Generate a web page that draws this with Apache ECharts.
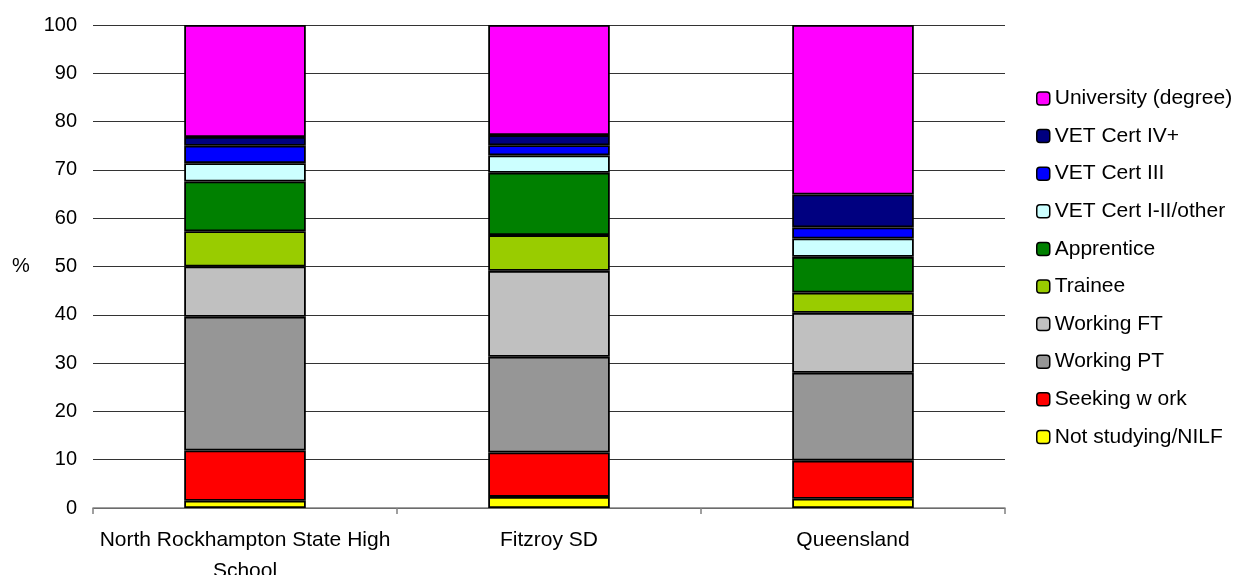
<!DOCTYPE html>
<html>
<head>
<meta charset="utf-8">
<script src="https://cdn.jsdelivr.net/npm/echarts@6/dist/echarts.min.js"></script>
<style>html,body{margin:0;padding:0;background:#fff}#c{width:1240px;height:575px}</style>
</head>
<body>
<div id="c"></div>
<script>
const categories = ['North Rockhampton State High\nSchool', 'Fitzroy SD', 'Queensland'];
const seriesNames = ['Not studying/NILF', 'Seeking w ork', 'Working PT', 'Working FT', 'Trainee', 'Apprentice', 'VET Cert I-II/other', 'VET Cert III', 'VET Cert IV+', 'University (degree)'];
const notStudying = [1.5, 2.3, 1.9];
const seekingWork = [10.4, 9.2, 7.9];
const workingPT = [27.7, 19.8, 18.2];
const workingFT = [10.4, 17.8, 12.4];
const trainee = [7.3, 7.4, 4.2];
const apprentice = [10.3, 12.9, 7.4];
const vetCertI_II = [3.8, 3.6, 3.8];
const vetCertIII = [3.6, 2.1, 2.3];
const vetCertIV = [1.8, 2.1, 6.8];
const university = [23.2, 22.8, 35.1];
const yTicks = [0, 10, 20, 30, 40, 50, 60, 70, 80, 90, 100];

const values = [notStudying, seekingWork, workingPT, workingFT, trainee, apprentice, vetCertI_II, vetCertIII, vetCertIV, university];
const colors = ['#FFFF00', '#FF0000', '#969696', '#C0C0C0', '#99CC00', '#008000', '#CCFFFF', '#0000FF', '#000080', '#FF00FF'];
const font = 'Liberation Sans, Arial, sans-serif';

const chart = echarts.init(document.getElementById('c'), null, {renderer: 'canvas'});
chart.setOption({
  animation: false,
  backgroundColor: '#fff',
  grid: {left: 93, right: 235, top: 25, bottom: 67, containLabel: false, outerBoundsMode: 'none'},
  legend: {
    orient: 'vertical',
    left: 1031,
    top: 83,
    itemWidth: 13,
    itemHeight: 13,
    itemGap: 16.6,
    data: seriesNames.slice().reverse(),
    textStyle: {fontFamily: font, fontSize: 21, color: '#000', lineHeight: 21},
    itemStyle: {borderColor: '#000', borderWidth: 1.5}
  },
  xAxis: {
    type: 'category',
    data: categories,
    axisLine: {lineStyle: {color: '#808080', width: 1.5}},
    axisTick: {show: true, length: 6, alignWithLabel: false, lineStyle: {color: '#808080', width: 1.5}},
    axisLabel: {fontFamily: font, fontSize: 21, color: '#000', margin: 17, lineHeight: 31, interval: 0}
  },
  yAxis: {
    type: 'value',
    min: 0,
    max: 100,
    interval: 10,
    name: '%',
    nameLocation: 'middle',
    nameRotate: 0,
    nameGap: 72,
    nameTextStyle: {fontFamily: font, fontSize: 20, color: '#000', align: 'center', verticalAlign: 'middle'},
    axisLine: {show: false},
    axisTick: {show: false},
    splitLine: {lineStyle: {color: '#333', width: 1}},
    axisLabel: {fontFamily: font, fontSize: 20, color: '#000', margin: 16,
      formatter: v => yTicks.includes(v) ? String(v) : ''}
  },
  series: seriesNames.map((n, i) => ({
    name: n,
    type: 'bar',
    stack: 'total',
    barWidth: '40%',
    data: values[i],
    itemStyle: {color: colors[i], borderColor: '#000', borderWidth: 1.8}
  }))
});
</script>
</body>
</html>
